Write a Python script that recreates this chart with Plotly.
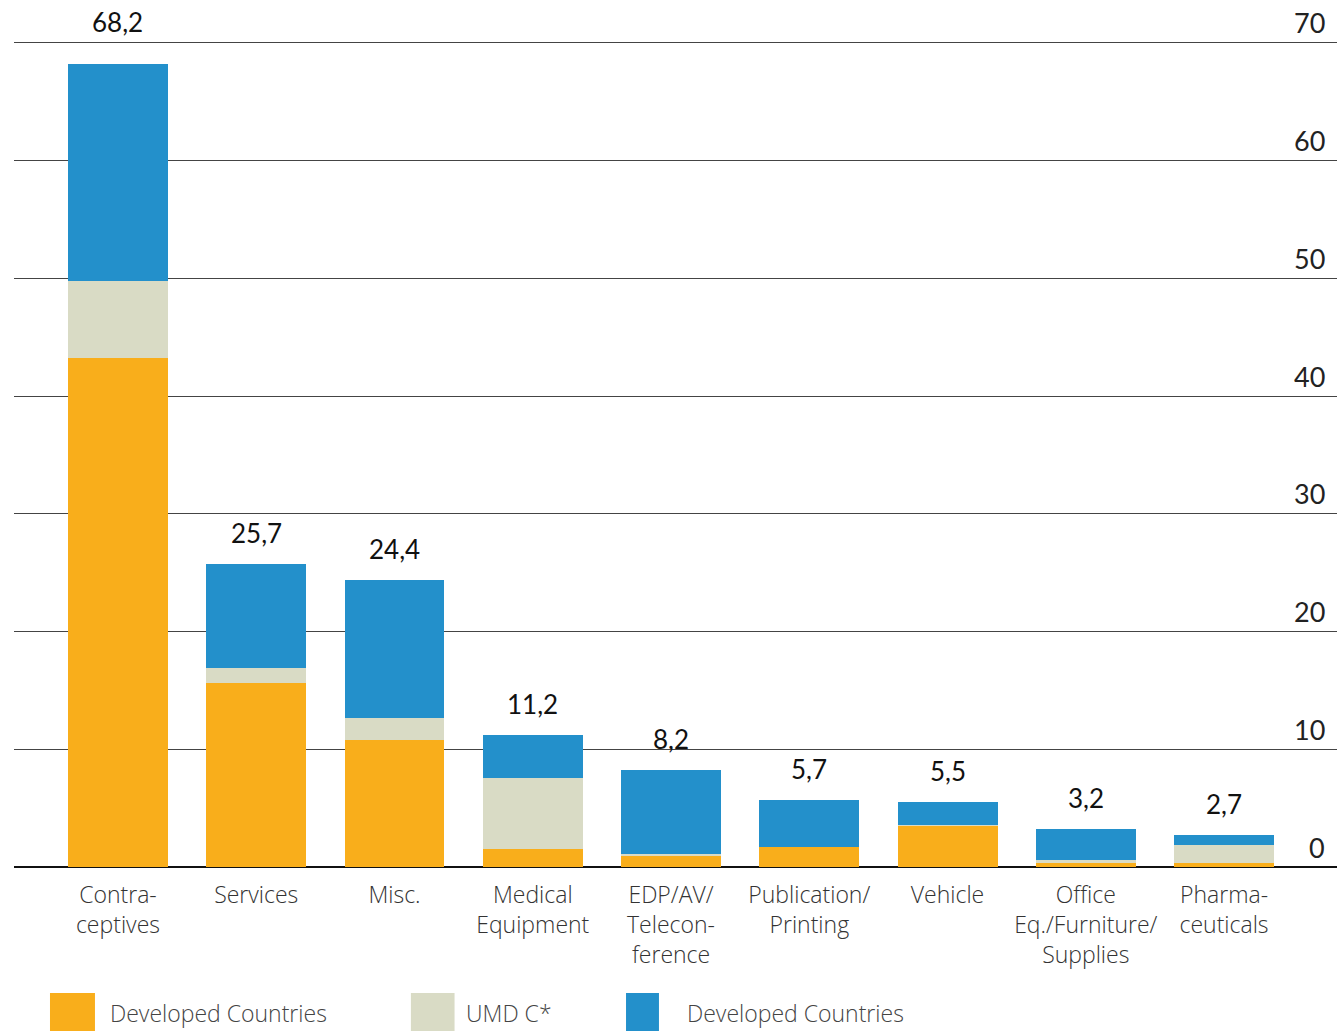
import plotly.graph_objects as go

categories = ["Contra-<br>ceptives", "Services", "Misc.", "Medical<br>Equipment",
              "EDP/AV/<br>Telecon-<br>ference", "Publication/<br>Printing", "Vehicle",
              "Office<br>Eq./Furniture/<br>Supplies", "Pharma-<br>ceuticals"]
developed_orange = [43.2, 15.6, 10.8, 1.5, 1.0, 1.7, 3.5, 0.3, 0.3]
umdc = [6.6, 1.3, 1.9, 6.1, 0.1, 0.0, 0.1, 0.3, 1.6]
developed_blue = [18.4, 8.8, 11.7, 3.6, 7.1, 4.0, 1.9, 2.6, 0.8]
totals = [68.2, 25.7, 24.4, 11.2, 8.2, 5.7, 5.5, 3.2, 2.7]
y_ticks = [0, 10, 20, 30, 40, 50, 60, 70]

names = ["Developed Countries", "UMD C*", "Developed Countries"]
colors = ["#F9AE1B", "#D9DBC5", "#2390CB"]

FONT = "Open Sans"
NUMFONT = "Lato"
x = list(range(len(categories)))

fig = go.Figure()
for vals, name, col in zip([developed_orange, umdc, developed_blue], names, colors):
    fig.add_trace(go.Bar(x=x, y=vals, name=name, marker=dict(color=col, line=dict(width=0)),
                         width=0.723, showlegend=False))

for i, t in enumerate(totals):
    fig.add_annotation(x=i, y=t, text=f"{t:.1f}".replace(".", ","), showarrow=False,
                       yanchor="middle", yshift=42 if i == 0 else 31, borderpad=0,
                       font=dict(family=NUMFONT, size=26, color="#111"))

# y tick labels, right aligned above each gridline
for v in y_ticks:
    fig.add_annotation(xref="paper", x=0.9917, y=v, text=str(v), showarrow=False,
                       xanchor="right", yanchor="middle", yshift=20, borderpad=0,
                       font=dict(family=NUMFONT, size=27, color="#222"))

# custom legend (paper coords)
leg_x0 = [0.0272, 0.300, 0.4626]
leg_x1 = [0.0612, 0.333, 0.4875]
text_x = [0.0710, 0.340, 0.507]
for x0, x1, tx, name, col in zip(leg_x0, leg_x1, text_x, names, colors):
    fig.add_shape(type="rect", xref="paper", yref="paper", x0=x0, x1=x1,
                  y0=-0.25, y1=-0.147, fillcolor=col, line=dict(width=0))
    fig.add_annotation(xref="paper", yref="paper", x=tx, y=-0.170, text=name, showarrow=False,
                       xanchor="left", yanchor="middle",
                       font=dict(family=FONT, size=23, color="#444", weight=300))

fig.update_layout(
    width=1343, height=1031,
    margin=dict(l=14, r=6, t=10, b=164),
    plot_bgcolor="white", paper_bgcolor="white",
    barmode="stack", bargap=0,
    xaxis=dict(range=[-0.752, 8.817], tickmode="array", tickvals=x, ticktext=categories,
               showgrid=False, showline=False, zeroline=False, ticks="",
               ticklabelstandoff=12,
               tickfont=dict(family=FONT, size=23, color="#333", weight=300)),
    yaxis=dict(range=[0, 72.8], tickvals=y_ticks, showticklabels=False,
               showgrid=True, gridcolor="#444", gridwidth=1, zeroline=True,
               zerolinecolor="#111", zerolinewidth=2, showline=False, ticks=""),
)
fig.write_html("out.html", config={"displayModeBar": False},
               post_script="document.body.style.margin='0';document.body.style.overflow='hidden';")
